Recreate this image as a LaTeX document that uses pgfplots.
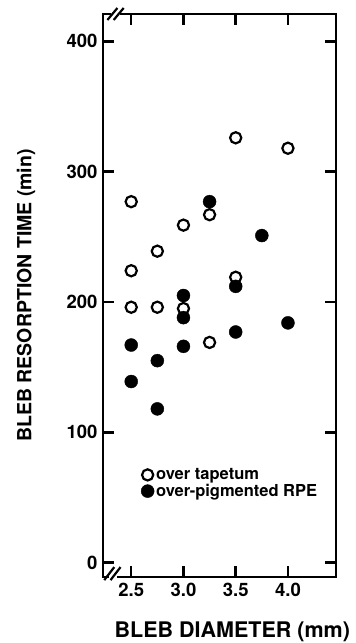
\documentclass[border=0pt]{standalone}
\usepackage{fontspec}
\setmainfont{TeX Gyre Heros}
\usepackage{pgfplots}
\pgfplotsset{compat=1.18}
\begin{document}
\begin{tikzpicture}
\begin{axis}[
  name=ax,
  scale only axis,
  width=233pt, height=563pt,
  xmin=2.23, xmax=4.46,
  ymin=-11, ymax=421,
  axis line style={line width=2.6pt},
  xtick={2.5,3.0,3.5,4.0},
  xticklabels={2.5,3.0,3.5,4.0},
  ytick={0,100,200,300,400},
  tick align=inside,
  major tick length=11pt,
  every tick/.style={line width=2.4pt, black},
  tick pos=both,
  /pgf/number format/assume math mode=true,
  tick label style={font=\fontsize{18.5}{20}\selectfont\bfseries},
  xticklabel style={yshift=-3pt},
  yticklabel style={xshift=-2pt},
  xlabel={BLEB DIAMETER (mm)},
  ylabel={BLEB RESORPTION TIME (min)},
  every axis x label/.style={at={(rel axis cs:0.555,0)}, yshift=-55pt, anchor=center, font=\fontsize{21.5}{23}\selectfont\bfseries},
  every axis y label/.style={at={(rel axis cs:0,0.50)}, xshift=-77pt, rotate=90, anchor=center, font=\fontsize{19.5}{22}\selectfont\bfseries},
  legend style={at={(rel axis cs:0.15,0.20)}, anchor=north west, draw=none, fill=none,
    font=\fontsize{16.5}{18}\selectfont\bfseries, row sep=-1pt,
    /tikz/every even column/.append style={column sep=2pt}},
  legend cell align=left,
  clip=false,
]
\addplot[only marks, mark=o, mark size=5.6pt, mark options={line width=2.2pt, black, fill=white}] coordinates {
 (2.5,277) (2.5,224) (2.5,196) (2.75,239) (2.75,196) (3.0,259) (3.0,195)
 (3.25,267) (3.25,169) (3.5,326) (3.5,219) (4.0,318)
};
\addlegendentry{over tapetum}
\addplot[only marks, mark=*, mark size=6.5pt, mark options={black, fill=black}] coordinates {
 (2.5,167) (2.5,139) (2.75,155) (2.75,118) (3.0,205) (3.0,188) (3.0,166)
 (3.25,277) (3.5,212) (3.5,177) (3.75,251) (4.0,184)
};
\addlegendentry{over-pigmented RPE}
% axis break marks
\draw[white, line width=5pt] (axis cs:2.31,421) -- (axis cs:2.39,421);
\draw[black, line width=2.2pt] ([shift={(-5pt,-6pt)}]axis cs:2.32,421) -- ([shift={(5pt,6pt)}]axis cs:2.32,421);
\draw[black, line width=2.2pt] ([shift={(-5pt,-6pt)}]axis cs:2.38,421) -- ([shift={(5pt,6pt)}]axis cs:2.38,421);
\draw[white, line width=5pt] (axis cs:2.29,-11) -- (axis cs:2.36,-11);
\draw[black, line width=2.2pt] ([shift={(-5pt,-7pt)}]axis cs:2.29,-8) -- ([shift={(5pt,6pt)}]axis cs:2.29,-8);
\draw[black, line width=2.2pt] ([shift={(-5pt,-7pt)}]axis cs:2.35,-8) -- ([shift={(5pt,6pt)}]axis cs:2.35,-8);
\end{axis}
\pgfresetboundingbox
\path ([shift={(-103pt,-66pt)}]ax.south west) rectangle ([shift={(20pt,14pt)}]ax.north east);
\end{tikzpicture}
\end{document}
